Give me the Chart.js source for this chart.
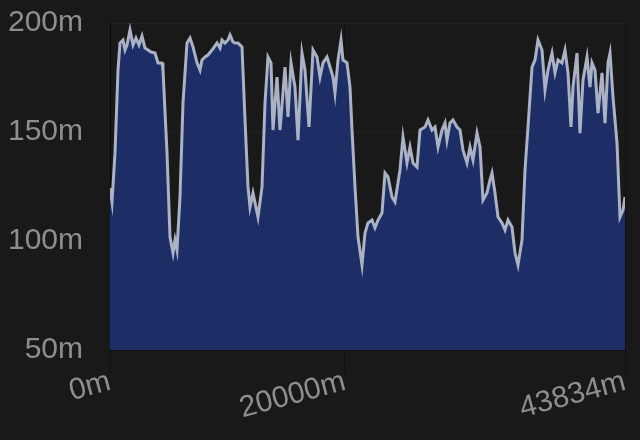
<!DOCTYPE html>
<html>
<head>
<meta charset="utf-8">
<script src="https://cdn.jsdelivr.net/npm/chart.js@4/dist/chart.umd.min.js"></script>
<style>
  html, body { margin: 0; padding: 0; background: #1a1919; }
  #wrap { width: 640px; height: 440px; }
</style>
</head>
<body>
<div id="wrap"><canvas id="profil"></canvas></div>
<script>
const distances = [
  0, 170, 426, 681, 851, 1107, 1277, 1447, 1702, 1958, 2213, 2468, 2724, 2979, 3234, 3490,
  3830, 4086, 4426, 4511, 4852, 5107, 5362, 5532, 5703, 5958, 6213, 6554, 6809, 7065, 7405,
  7660, 7831, 8086, 8341, 8682, 9107, 9363, 9533, 9788, 10044, 10214, 10469, 10639, 10895,
  11235, 11491, 11746, 11916, 12171, 12597, 12937, 13193, 13448, 13704, 13874, 14214, 14470,
  14895, 15150, 15406, 15746, 16002, 16342, 16597, 16938, 17278, 17619, 17874, 18130, 18470,
  18981, 19151, 19406, 19662, 19832, 20172, 20428, 20598, 20853, 21109, 21449, 21704, 21960,
  22300, 22555, 22811, 23151, 23407, 23662, 24002, 24258, 24683, 24939, 25279, 25535, 25790,
  26130, 26386, 26811, 27067, 27407, 27662, 27918, 28258, 28514, 28684, 28939, 29194, 29535,
  29790, 30046, 30386, 30641, 30897, 31237, 31493, 31748, 32088, 32344, 32514, 32769, 33025,
  33365, 33620, 33876, 34216, 34472, 34727, 35067, 35323, 35578, 35919, 36174, 36429, 36770,
  37025, 37280, 37621, 37876, 38132, 38472, 38727, 38983, 39238, 39408, 39749, 40004, 40259,
  40600, 40855, 41025, 41281, 41536, 41877, 42132, 42387, 42558, 42813, 43153, 43409, 43664, 43834
];
const altitudes = [
  124.3, 117.9, 140.4, 178.4, 190.8, 192.2, 187.6, 189.9, 196.8, 189.9, 193.1, 189.9, 194.0, 188.5, 187.6, 186.7,
  186.2, 181.7, 181.7, 178.4, 140.4, 101.8, 94.5, 100.5, 95.9, 120.2, 163.3, 190.8, 193.1, 189.0, 181.7,
  178.4, 183.0, 184.4, 185.3, 187.6, 190.8, 188.5, 192.2, 190.8, 192.2, 194.5, 191.3, 190.8, 190.8,
  189.0, 155.5, 124.8, 115.6, 122.0, 111.0, 124.8, 163.3, 184.4, 181.7, 150.9, 175.2, 150.9,
  179.8, 156.9, 181.7, 170.6, 146.3, 186.2, 178.4, 152.3, 187.6, 184.4, 175.2, 181.7, 184.4,
  175.2, 167.9, 183.0, 192.2, 183.0, 181.7, 170.6, 150.9, 124.8, 101.8, 89.0, 103.7, 108.3,
  109.6, 106.0, 109.6, 112.8, 131.2, 129.4, 120.2, 117.9, 132.6, 147.7, 135.8, 143.1, 135.8,
  133.9, 150.9, 152.3, 155.5, 150.9, 152.3, 143.1, 150.9, 154.1, 146.3, 154.1, 155.5, 152.3,
  150.9, 141.7, 135.8, 143.1, 137.2, 149.5, 143.1, 118.8, 122.0, 128.0, 131.2, 122.0, 111.0,
  108.3, 105.0, 109.6, 106.4, 94.5, 89.0, 100.5, 132.6, 152.3, 179.8, 183.0, 192.2, 187.6,
  169.3, 178.4, 186.2, 177.1, 183.0, 181.7, 187.6, 177.1, 152.3, 170.6, 186.2, 149.5, 173.9,
  184.4, 170.6, 181.7, 178.4, 158.7, 177.1, 154.1, 181.7, 186.2, 166.1, 145.0, 111.0, 114.2, 120.2
];
const ticksDistance = [0, 20000, 43834];
const ticksAltitude = [50, 100, 150, 200];

const gris = "#8e8e8e";
const police = { family: "'Liberation Sans', Arial, sans-serif", size: 30 };

const points = distances.map((d, i) => ({ x: d, y: altitudes[i] }));

new Chart(document.getElementById("profil"), {
  type: "line",
  data: {
    datasets: [{
      data: points,
      borderColor: "#aab2c4",
      borderWidth: 3,
      backgroundColor: "#1d2e66",
      fill: "start",
      pointRadius: 0,
      tension: 0
    }]
  },
  options: {
    responsive: true,
    maintainAspectRatio: false,
    animation: false,
    layout: { padding: { top: 23, right: 15, left: 0, bottom: 0 } },
    plugins: { legend: { display: false }, tooltip: { enabled: false } },
    scales: {
      x: {
        type: "linear",
        min: 0,
        max: 43834,
        afterBuildTicks: scale => { scale.ticks = ticksDistance.map(v => ({ value: v })); },
        afterFit: scale => { scale.height = 90; },
        ticks: {
          color: gris,
          font: police,
          minRotation: 15,
          maxRotation: 15,
          padding: -10,
          callback: v => v + "m"
        },
        grid: { color: "rgba(0,0,0,0.35)", tickLength: 24 },
        border: { color: "rgba(0,0,0,0.5)" }
      },
      y: {
        min: 50,
        max: 200,
        afterBuildTicks: scale => { scale.ticks = ticksAltitude.map(v => ({ value: v })); },
        afterFit: scale => { scale.width = 110; },
        ticks: {
          color: gris,
          font: police,
          padding: 3,
          callback: v => v + "m"
        },
        grid: { color: "rgba(255,255,255,0.04)", drawTicks: true, tickLength: 24, tickColor: "transparent" },
        border: { color: "rgba(0,0,0,0.5)" }
      }
    }
  }
});
</script>
</body>
</html>
